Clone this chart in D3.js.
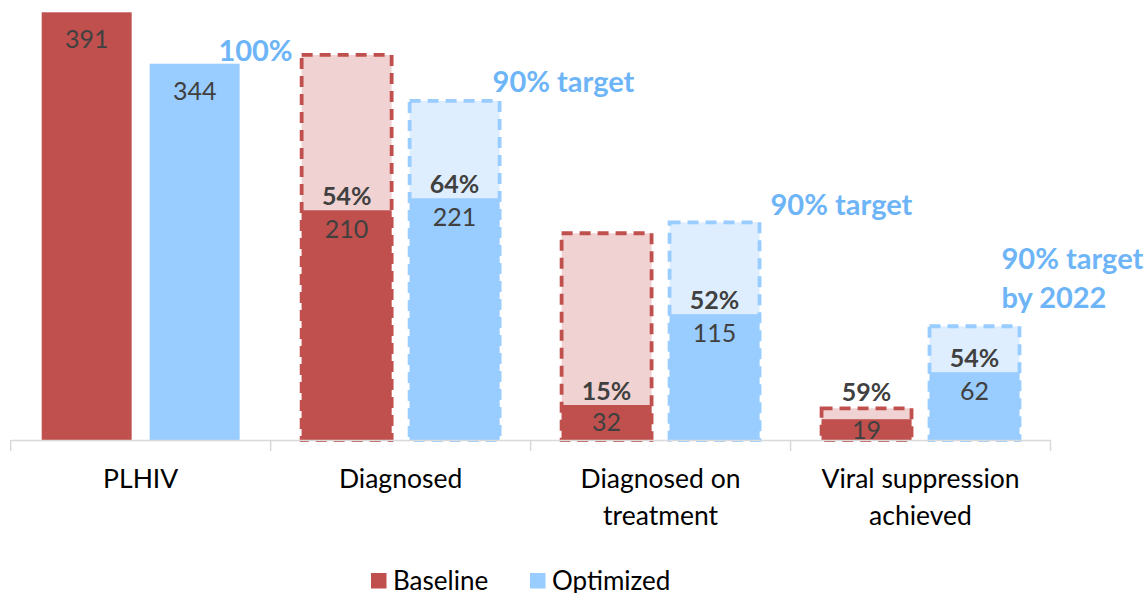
<!DOCTYPE html>
<html><head><meta charset="utf-8">
<script src="https://cdn.jsdelivr.net/npm/d3@7"></script>
<style>
html,body{margin:0;padding:0;background:#fff;}
svg{display:block;font-family:Lato,"Open Sans",sans-serif;}
</style></head>
<body>
<svg id="chart" width="1147" height="593"></svg>
<script>
// ---- data ----
const categories = ["PLHIV", "Diagnosed", "Diagnosed on treatment", "Viral suppression achieved"];
const categoryLines = [["PLHIV"], ["Diagnosed"], ["Diagnosed on", "treatment"], ["Viral suppression", "achieved"]];
const seriesNames = ["Baseline", "Optimized"];
const baseline = [391, 210, 32, 19];
const optimized = [344, 221, 115, 62];
const baselineTarget = [null, 352, 189, 29];
const optimizedTarget = [null, 310, 199, 104];
const baselinePct = [null, "54%", "15%", "59%"];
const optimizedPct = [null, "64%", "52%", "54%"];
const annotations = [["100%"], ["90% target"], ["90% target"], ["90% target", "by 2022"]];

// ---- styles ----
const col = {
  Baseline: {solid: "#C0504D", light: "#F0D2D2"},
  Optimized: {solid: "#99CCFF", light: "#DEEEFF"}
};
const annColor = "#6DB5F7";
const labelColor = "#404040";

const svg = d3.select("#chart");
const x = d3.scaleBand().domain(categories).range([10.7, 1050.5]).paddingInner(0).paddingOuter(0);
const xs = d3.scaleBand().domain(seriesNames).range([31, x.bandwidth() - 31]).paddingInner(1/6).paddingOuter(0);
const y = d3.scaleLinear().domain([0, 391]).range([440, 12.3]);

const rows = categories.map((c, i) => ({
  cat: c, i,
  bars: [
    {s: "Baseline", v: baseline[i], t: baselineTarget[i], p: baselinePct[i]},
    {s: "Optimized", v: optimized[i], t: optimizedTarget[i], p: optimizedPct[i]}
  ]
}));

const g = svg.append("g");
const cg = g.selectAll("g.cat").data(rows).join("g").attr("class", "cat")
  .attr("transform", d => `translate(${x(d.cat)},0)`);

const bg = cg.selectAll("g.bar").data(d => d.bars.map(b => Object.assign({i: d.i}, b))).join("g").attr("class", "bar");

// target fills
bg.filter(d => d.t != null).append("rect")
  .attr("x", d => xs(d.s)).attr("width", xs.bandwidth())
  .attr("y", d => y(d.t)).attr("height", d => y(0) - y(d.t))
  .attr("fill", d => col[d.s].light);

// solid bars
bg.append("rect")
  .attr("x", d => xs(d.s)).attr("width", xs.bandwidth())
  .attr("y", d => y(d.v)).attr("height", d => y(0) - y(d.v))
  .attr("fill", d => col[d.s].solid);

// dashed outlines
bg.filter(d => d.t != null).append("rect")
  .attr("x", d => xs(d.s)).attr("width", xs.bandwidth())
  .attr("y", d => y(d.t)).attr("height", d => y(0) - y(d.t))
  .attr("fill", "none").attr("stroke", d => col[d.s].solid)
  .attr("stroke-width", 3.8).attr("stroke-dasharray", "11,7");

// value labels
bg.append("text")
  .attr("x", d => xs(d.s) + xs.bandwidth() / 2)
  .attr("y", d => d.i === 0 ? y(d.v) + 26 : Math.min(y(d.v) + 18, (y(d.v) + y(0)) / 2 - 1))
  .attr("text-anchor", "middle").attr("dominant-baseline", "central")
  .attr("fill", labelColor).attr("font-size", 25)
  .text(d => d.v);

// percent labels
bg.filter(d => d.p != null).append("text")
  .attr("x", d => xs(d.s) + xs.bandwidth() / 2)
  .attr("y", d => {
    const yy = y(d.v) - 15;
    return (yy - 12 < y(d.t)) ? y(d.t) - 17 : yy;
  })
  .attr("text-anchor", "middle").attr("dominant-baseline", "central")
  .attr("fill", labelColor).attr("font-size", 25).attr("font-weight", "bold")
  .text(d => d.p);

// annotations (placed relative to the optimized bar / target of each category)
const annLayout = [
  {anchor: "end", dx: 53, dy: -15},
  {anchor: "start", dx: -7, dy: -21},
  {anchor: "start", dx: 11, dy: -19},
  {anchor: "start", dx: -18, dy: -69}
];
cg.each(function(d) {
  const L = annLayout[d.i];
  const top = d.bars[1].t != null ? d.bars[1].t : d.bars[1].v;
  const xr = xs("Optimized") + xs.bandwidth();
  const t = d3.select(this).append("text")
    .attr("x", xr + L.dx).attr("y", y(top) + L.dy)
    .attr("text-anchor", L.anchor).attr("dominant-baseline", "central")
    .attr("fill", annColor).attr("font-size", 29).attr("font-weight", "bold");
  annotations[d.i].forEach((line, k) => {
    t.append("tspan").attr("x", xr + L.dx).attr("dy", k === 0 ? 0 : 39).text(line);
  });
});

// x axis
const axisG = svg.append("g").attr("transform", `translate(0,${y(0)})`);
axisG.append("line").attr("x1", x.range()[0]).attr("x2", x.range()[1]).attr("y1", 0.5).attr("y2", 0.5)
  .attr("stroke", "#D9D9D9").attr("stroke-width", 1.5);
const tickXs = categories.map(c => x(c)).concat([x.range()[1]]);
axisG.selectAll("line.tick").data(tickXs).join("line").attr("class", "tick")
  .attr("x1", d => d).attr("x2", d => d).attr("y1", 0).attr("y2", 11)
  .attr("stroke", "#D9D9D9").attr("stroke-width", 1.5);
axisG.selectAll("text.cl").data(rows).join("text").attr("class", "cl")
  .attr("x", d => x(d.cat) + x.bandwidth() / 2).attr("y", 38)
  .attr("text-anchor", "middle").attr("dominant-baseline", "central")
  .attr("fill", "#000").attr("font-size", 26.5)
  .each(function(d) {
    const t = d3.select(this);
    categoryLines[d.i].forEach((line, k) => {
      t.append("tspan").attr("x", x(d.cat) + x.bandwidth() / 2).attr("dy", k === 0 ? 0 : 37).text(line);
    });
  });

// legend
const legX = [371, 530];
const lg = svg.append("g").selectAll("g").data(seriesNames).join("g")
  .attr("transform", (d, i) => `translate(${legX[i]},573)`);
lg.append("rect").attr("width", 15.5).attr("height", 15.5).attr("fill", d => col[d].solid);
lg.append("text").attr("x", 22).attr("y", 7).attr("dominant-baseline", "central")
  .attr("font-size", 26).attr("fill", "#000").text(d => d);
</script>
</body></html>
